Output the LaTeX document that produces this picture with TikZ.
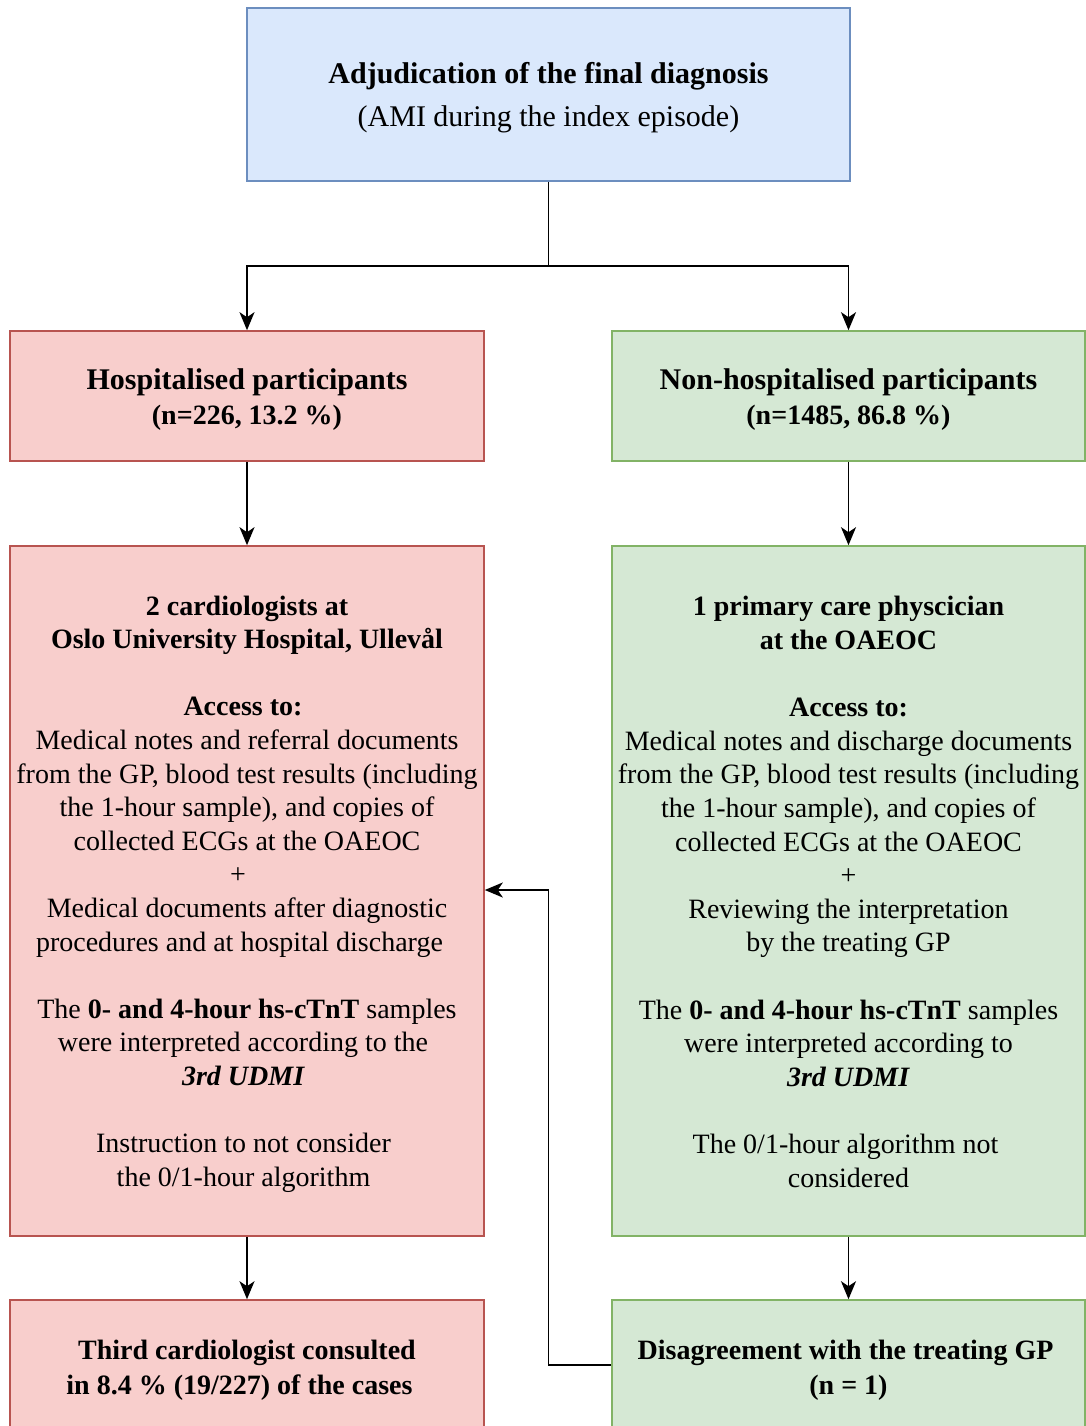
\documentclass[tikz,border=0pt]{standalone}
\usepackage{fontspec}
\setmainfont{Liberation Serif}
\usetikzlibrary{arrows.meta}
\definecolor{blueFill}{HTML}{DAE8FC}
\definecolor{blueLine}{HTML}{6C8EBF}
\definecolor{redFill}{HTML}{F8CECC}
\definecolor{redLine}{HTML}{B85450}
\definecolor{greenFill}{HTML}{D5E8D4}
\definecolor{greenLine}{HTML}{82B366}
% trailing blank space at the end of a centred line (a kern survives \\)
\newcommand{\tsp}[1]{\kern#1pt\relax}
\begin{document}
\begin{tikzpicture}[x=1pt,y=-1pt,
  box/.style={rectangle, draw, line width=1.6pt, inner sep=0pt},
  bluebox/.style={box, fill=blueFill, draw=blueLine},
  redbox/.style={box, fill=redFill, draw=redLine, minimum width=474pt},
  greenbox/.style={box, fill=greenFill, draw=greenLine, minimum width=473pt},
  txt/.style={align=center, inner sep=0pt, font=\fontsize{28}{33.6}\selectfont},
  conn/.style={line width=1.6pt, draw=black},
  arr/.style={conn, -{Stealth[length=18pt, width=15pt, inset=5pt]}}]
\useasboundingbox (0,0) rectangle (1086,1426);
\clip (0,0) rectangle (1086,1426);

% top: adjudication
\node[bluebox, minimum width=603pt, minimum height=173pt] (top) at (548.5,94.5) {};
\node[txt, font=\fontsize{30}{43}\selectfont] (topText) at ([yshift=-3pt]top.center)
  {\textbf{Adjudication of the final diagnosis}\\(AMI during the index episode)};

% second row
\node[redbox, minimum height=130pt] (hosp) at (247,396) {};
\node[txt, font=\fontsize{30}{35}\selectfont] (hospText) at ([yshift=-4pt]hosp.center)
  {\textbf{Hospitalised participants}\\\fontsize{28}{35}\selectfont\textbf{(n=226, 13.2 \%)}};
\node[greenbox, minimum height=130pt] (nonhosp) at (848.5,396) {};
\node[txt, font=\fontsize{30}{35}\selectfont] (nonhospText) at ([yshift=-4pt]nonhosp.center)
  {\textbf{Non-hospitalised participants}\\\fontsize{28}{35}\selectfont\textbf{(n=1485, 86.8 \%)}};

% third row: adjudicators
\node[redbox, minimum height=690pt] (cardio) at (247,891) {};
\node[txt] (cardioText) at ([yshift=-3pt]cardio.center)
  {\textbf{2 cardiologists at}\\
   \textbf{Oslo University Hospital, Ullevål}\\[33.6pt]
   \textbf{Access to:}\tsp{8}\\
   Medical notes and referral documents\\
   from the GP, blood test results (including\\
   the 1-hour sample), and copies of\\
   collected ECGs at the OAEOC\\
   +\tsp{18}\\
   Medical documents after diagnostic\\
   procedures and at hospital discharge\tsp{15}\\[33.6pt]
   The \textbf{0- and 4-hour hs-cTnT} samples\\
   were interpreted according to the\tsp{8}\\
   \textbf{\textit{3rd UDMI}}\tsp{7}\\[33.6pt]
   Instruction to not consider\tsp{7}\\
   the 0/1-hour algorithm\tsp{7}};
\node[greenbox, minimum height=690pt] (gp) at (848.5,891) {};
\node[txt] (gpText) at ([yshift=-1pt]gp.center)
  {\textbf{1 primary care physcician}\\
   \textbf{at the OAEOC}\\[33.6pt]
   \textbf{Access to:}\\
   Medical notes and discharge documents\\
   from the GP, blood test results (including\\
   the 1-hour sample), and copies of\\
   collected ECGs at the OAEOC\\
   +\\
   Reviewing the interpretation\\
   by the treating GP\\[33.6pt]
   The \textbf{0- and 4-hour hs-cTnT} samples\\
   were interpreted according to\\
   \textbf{\textit{3rd UDMI}}\\[33.6pt]
   The 0/1-hour algorithm not\tsp{6}\\
   considered};

% bottom row: outcomes
\node[redbox, minimum height=130pt] (third) at (247,1365) {};
\node[txt, font=\fontsize{28}{35}\selectfont] (thirdText) at ([yshift=-5pt]third.center)
  {\textbf{Third cardiologist consulted}\\\textbf{in 8.4 \% (19/227) of the cases}\tsp{15}};
\node[greenbox, minimum height=130pt] (disagree) at (848.5,1365) {};
\node[txt, font=\fontsize{28}{35}\selectfont] (disagreeText) at ([yshift=-5pt]disagree.center)
  {\textbf{Disagreement with the treating GP}\tsp{6}\\\textbf{(n = 1)}};

% connectors
\coordinate (split) at (548.5,266);
\draw[conn] (top.south) -- (split);
\draw[arr] (split) -| (hosp.north);
\draw[arr] (split) -| (nonhosp.north);
\draw[arr] (hosp.south) -- (cardio.north);
\draw[arr] (nonhosp.south) -- (gp.north);
\draw[arr] (cardio.south) -- (third.north);
\draw[arr] (gp.south) -- (disagree.north);
\coordinate (back) at (548.5,890);
\draw[arr] (disagree.west) -| (back) -- (back -| cardio.east);
\end{tikzpicture}
\end{document}
